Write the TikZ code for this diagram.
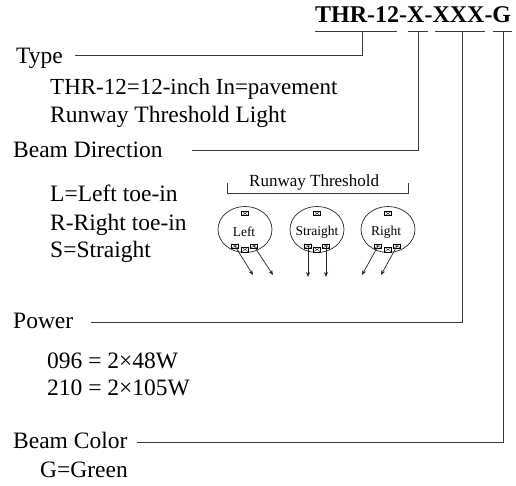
\documentclass[tikz,border=0pt]{standalone}
\usepackage{fontspec}
\setmainfont{Liberation Serif}
\usetikzlibrary{shapes.geometric,arrows.meta}
\begin{document}
\begin{tikzpicture}[x=1pt,y=-1pt,
  lbl/.style={anchor=base west,inner sep=0pt,font=\fontsize{23.5}{27}\selectfont},
  ttl/.style={anchor=base west,inner sep=0pt,font=\fontsize{24}{28}\selectfont\bfseries},
  small/.style={anchor=base west,inner sep=0pt,font=\fontsize{17}{19}\selectfont},
  ln/.style={draw=black!78,line width=0.8pt},
  lamp/.style={draw=black!85,ellipse,line width=0.7pt,minimum width=54pt,minimum height=46pt,inner sep=0pt},
  lamptxt/.style={inner sep=0pt,font=\fontsize{13.5}{15}\selectfont},
  lens/.style={draw=black,line width=0.5pt,minimum width=7pt,minimum height=4.5pt,inner sep=0pt,
    path picture={\draw[line width=0.3pt] (path picture bounding box.south west) -- (path picture bounding box.north east) (path picture bounding box.north west) -- (path picture bounding box.south east);}},
  beam/.style={draw=black!85,line width=0.7pt,-{Stealth[length=5pt,width=4pt]}},
]
\useasboundingbox (0,0) rectangle (516,486);

% title and underlines
\node[ttl] (title) at (315,23) {THR-12-X-XXX-G};
\coordinate (u1a) at (315,31); \coordinate (u1b) at (397,31);
\coordinate (u2a) at (408,31); \coordinate (u2b) at (428,31);
\coordinate (u3a) at (435,31); \coordinate (u3b) at (485,31);
\coordinate (u4a) at (493,31); \coordinate (u4b) at (512,31);
\draw[ln] (u1a) -- (u1b) (u2a) -- (u2b) (u3a) -- (u3b) (u4a) -- (u4b);

\coordinate (tT) at (362,31);
\coordinate (tX) at (418.5,31);
\coordinate (tXXX) at (462,31);
\coordinate (tG) at (503.5,31);

% labels
\node[lbl] (type) at (16,64) {Type};
\node[lbl,font=\fontsize{23}{27}\selectfont] (type1) at (50,95) {THR-12=12-inch In=pavement};
\node[lbl] (type2) at (50,123) {Runway Threshold Light};
\node[lbl] (dir) at (13,158) {Beam Direction};
\node[lbl] (dir1) at (50,202) {L=Left toe-in};
\node[lbl] (dir2) at (50,230) {R-Right toe-in};
\node[lbl] (dir3) at (50,258) {S=Straight};
\node[lbl] (pow) at (13,328) {Power};
\node[lbl] (pow1) at (47,368) {096 = 2×48W};
\node[lbl] (pow2) at (47,395) {210 = 2×105W};
\node[lbl] (col) at (13,448) {Beam Color};
\node[lbl] (col1) at (40,477) {G=Green};

% connectors
\coordinate (typeEnd) at (75,55);
\coordinate (dirEnd) at (192,150);
\coordinate (powEnd) at (91,322);
\coordinate (colEnd) at (137,442);
\draw[ln] (typeEnd) -| (tT);
\draw[ln] (dirEnd) -| (tX);
\draw[ln] (powEnd) -| (tXXX);
\draw[ln] (colEnd) -| (tG);

% runway threshold bracket
\node[small] (rt) at (249,187) {Runway Threshold};
\coordinate (b1) at (227,183); \coordinate (b2) at (227,193);
\coordinate (b3) at (408,193); \coordinate (b4) at (408,183);
\draw[ln,line width=0.7pt] (b1) -- (b2) -- (b3) -- (b4);

% lamps
\node[lamp] (lampL) at (245,229.5) {};
\node[lamp] (lampS) at (317,229.5) {};
\node[lamp] (lampR) at (388,229.5) {};
\node[lamptxt] (tL) at (244,232) {Left};
\node[lamptxt] (tS) at (317,232) {Straight};
\node[lamptxt] (tR) at (386,232) {Right};

% lenses
\foreach \n/\x/\a/\b in {L/245/235/254, S/317/308/326, R/388/378/397}{
  \node[lens] (top\n) at (\x,213.5) {};
  \node[lens] (mid\n) at (\x,249.5) {};
  \node[lens] (la\n) at (\a,246) {};
  \node[lens] (lb\n) at (\b,246) {};
}

% beams
\coordinate (eLa) at (253,275); \coordinate (eLb) at (273,275);
\coordinate (eSa) at (308,277); \coordinate (eSb) at (326,277);
\coordinate (eRa) at (362,275); \coordinate (eRb) at (381,275);
\draw[beam] (laL.center) -- (eLa);
\draw[beam] (lbL.center) -- (eLb);
\draw[beam] (laS.center) -- (eSa);
\draw[beam] (lbS.center) -- (eSb);
\draw[beam] (laR.center) -- (eRa);
\draw[beam] (lbR.center) -- (eRb);
\end{tikzpicture}
\end{document}
